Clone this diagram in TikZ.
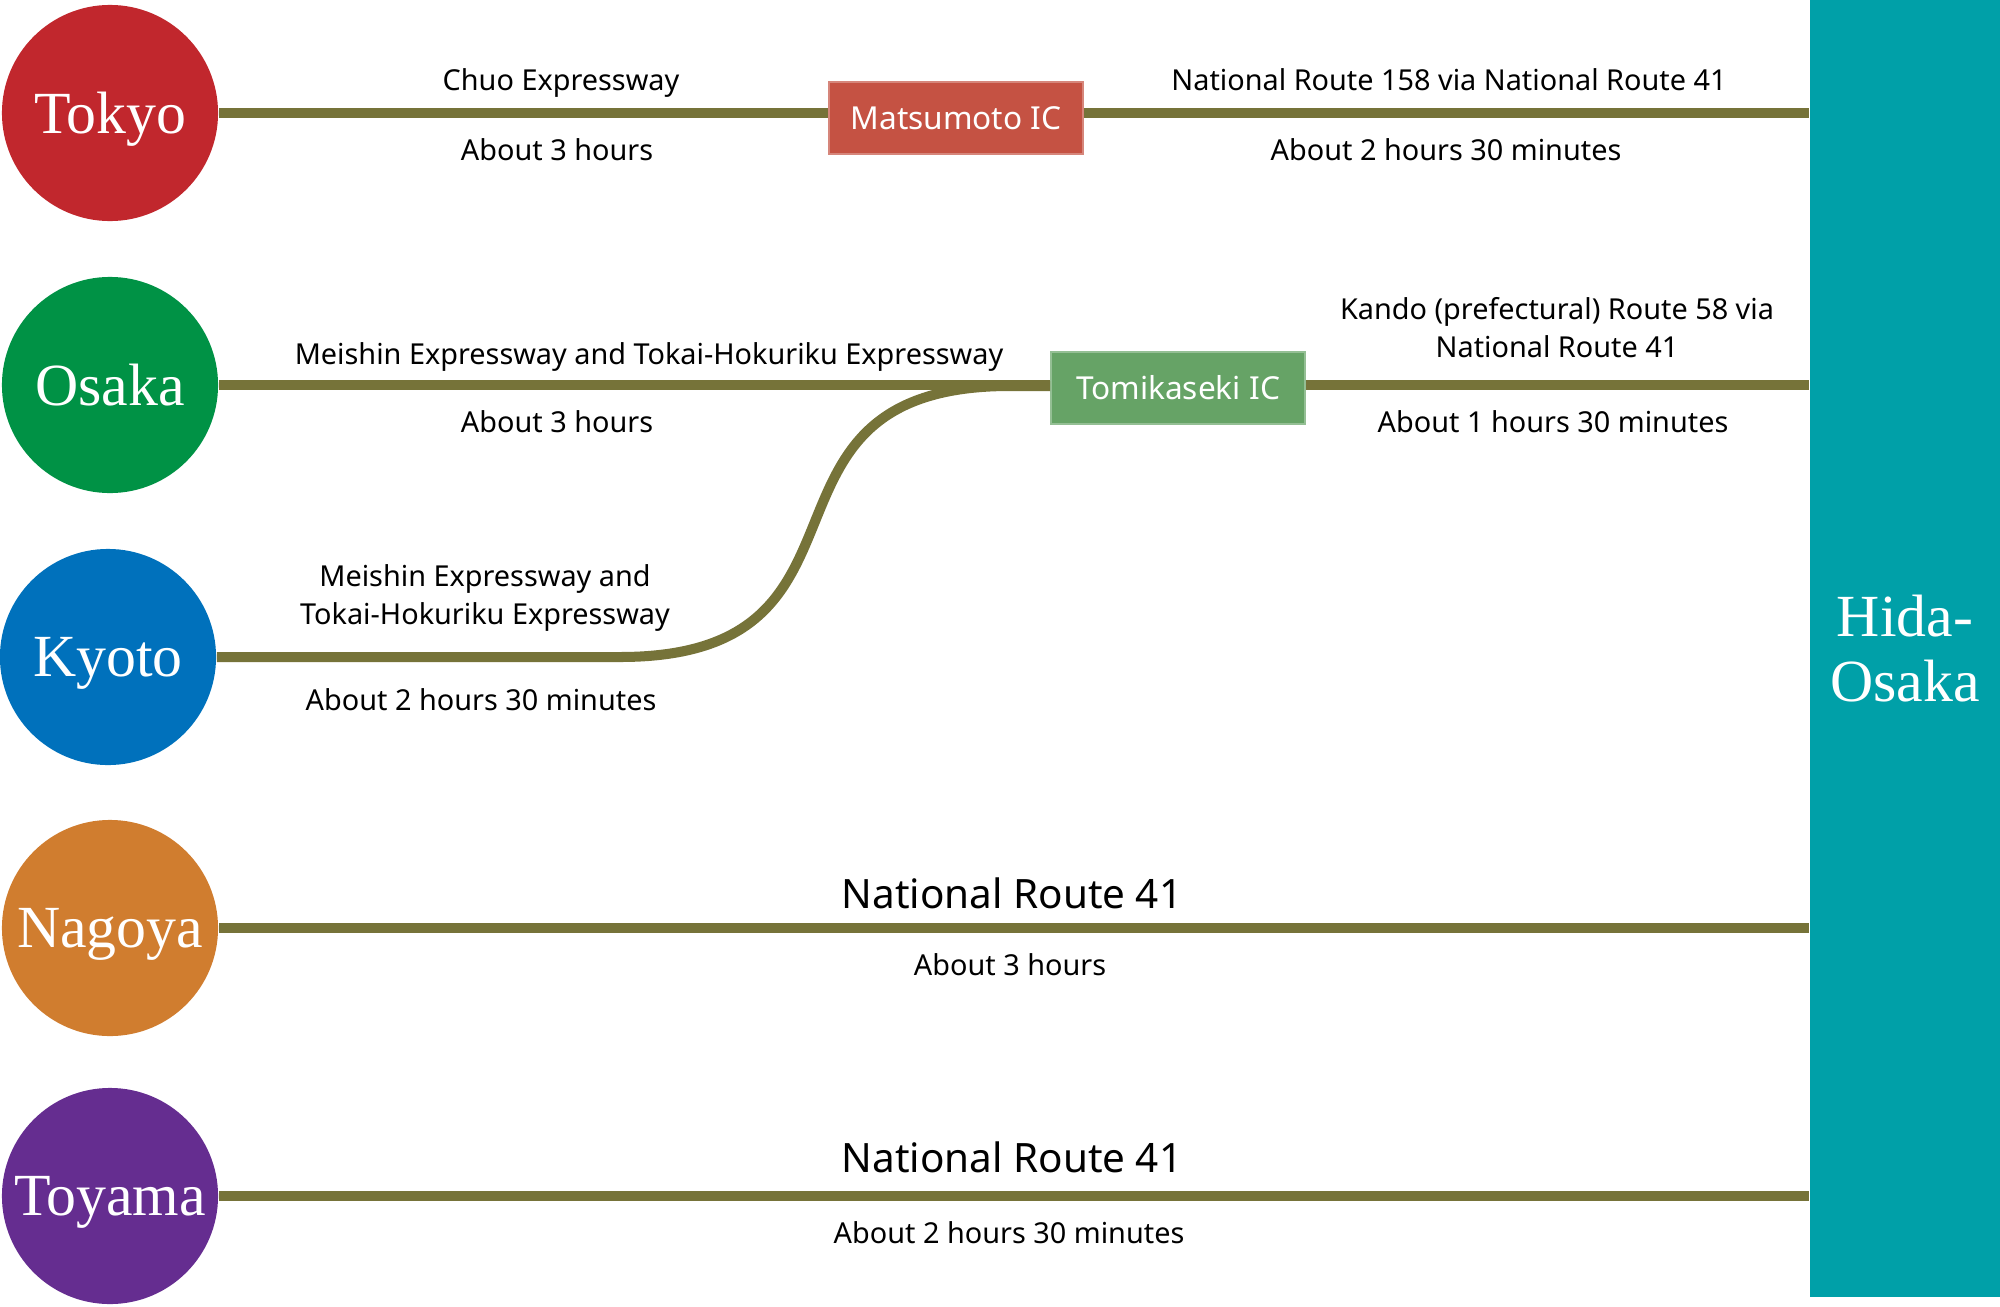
\documentclass[tikz,border=0pt]{standalone}
\usepackage{fontspec}
\setmainfont{Liberation Serif}
\setsansfont{Noto Sans}
\usepackage{tikz}
\usetikzlibrary{calc}
\usetikzlibrary{positioning}
\definecolor{tokyored}{RGB}{193, 39, 45}
\definecolor{osakagreen}{RGB}{0, 146, 69}
\definecolor{kyotoblue}{RGB}{0, 113, 188}
\definecolor{nagoyaorange}{RGB}{208, 125, 47}
\definecolor{toyamapurple}{RGB}{101, 45, 144}
\definecolor{hidateal}{RGB}{0, 160, 168}
\definecolor{roadolive}{RGB}{118, 115, 57}
\definecolor{matsured}{RGB}{197, 82, 67}
\definecolor{tomigreen}{RGB}{102, 163, 102}
\tikzset{
  city/.style={circle, fill=#1, text=white, minimum size=2.16cm, inner sep=0pt,
               text depth=0pt, font=\fontsize{17}{20}\selectfont},
  icbox/.style={rectangle, fill=#1, draw=#1!70!white, line width=0.4pt, text=white,
                minimum width=2.54cm, minimum height=0.72cm, inner sep=0pt,
                font=\sffamily\fontsize{9}{11}\selectfont},
  road/.style={roadolive, line width=0.1cm},
  lbl/.style={anchor=base, align=center, font=\sffamily\fontsize{8.2}{10.8}\selectfont},
  twolbl/.style={anchor=center, align=center, font=\sffamily\fontsize{8.2}{10.8}\selectfont},
  biglbl/.style={anchor=base, font=\sffamily\fontsize{11.5}{14}\selectfont}
}
\begin{document}
\begin{tikzpicture}[x=0.01cm, y=-0.01cm]
    \useasboundingbox (0,0) rectangle (2000,1306);
    % destination
    \node[rectangle, fill=hidateal, text=white, minimum width=1.9cm, minimum height=12.97cm,
          inner sep=0pt, align=center, font=\fontsize{17}{18.5}\selectfont]
          (hida) at (1905,648.5) {Hida-\\Osaka};
    % cities
    \node[city=tokyored]     (tokyo)  at (110,113)  {Tokyo};
    \node[city=osakagreen]   (osaka)  at (110,385)  {Osaka};
    \node[city=kyotoblue]    (kyoto)  at (108,657)  {Kyoto};
    \node[city=nagoyaorange] (nagoya) at (110,928)  {Nagoya};
    \node[city=toyamapurple] (toyama) at (110,1196) {Toyama};
    % interchanges
    \node[icbox=matsured]  (matsumoto)  at (956,118)  {Matsumoto IC};
    \node[icbox=tomigreen] (tomikaseki) at (1178,388) {Tomikaseki IC};
    % roads
    \draw[road] (tokyo.east) -- (tokyo -| matsumoto.west);
    \draw[road] (matsumoto.east |- tokyo) -- (tokyo -| hida.west);
    \draw[road] (osaka.east) -- (osaka -| tomikaseki.west);
    \draw[road] (tomikaseki.east |- osaka) -- (osaka -| hida.west);
    \coordinate (kyotobend) at (620,657);
    \coordinate (tomijoin)  at (1010,386);
    \draw[road] (kyoto.east) -- (kyotobend) .. controls +(280,0) and +(-280,0) .. (tomijoin)
                -- (tomijoin -| tomikaseki.west);
    \draw[road] (nagoya.east) -- (nagoya -| hida.west);
    \draw[road] (toyama.east) -- (toyama -| hida.west);
    % labels
    \node[lbl] (tokyoroad)   at (561,90.7)   {Chuo Expressway};
    \node[lbl] (tokyotime)   at (557,160.7)  {About 3 hours};
    \node[lbl] (matsuroad)   at (1449,90.7)  {National Route 158 via National Route 41};
    \node[lbl] (matsutime)   at (1446,160.7) {About 2 hours 30 minutes};
    \node[lbl] (osakaroad)   at (649,364)    {Meishin Expressway and Tokai-Hokuriku Expressway};
    \node[lbl] (osakatime)   at (557,432.7)  {About 3 hours};
    \node[twolbl] (tomiroad) at (1557,328)   {Kando (prefectural) Route 58 via\\National Route 41};
    \node[lbl] (tomitime)    at (1553,432.7) {About 1 hours 30 minutes};
    \node[twolbl] (kyotoroad) at (485,598)   {Meishin Expressway and\\Tokai-Hokuriku Expressway};
    \node[lbl] (kyototime)   at (481,710.7)  {About 2 hours 30 minutes};
    \node[biglbl] (nagoyaroad) at (1012,908.3)  {National Route 41};
    \node[lbl] (nagoyatime)    at (1010,975)    {About 3 hours};
    \node[biglbl] (toyamaroad) at (1012,1172.3) {National Route 41};
    \node[lbl] (toyamatime)    at (1009,1243.3) {About 2 hours 30 minutes};
\end{tikzpicture}
\end{document}
